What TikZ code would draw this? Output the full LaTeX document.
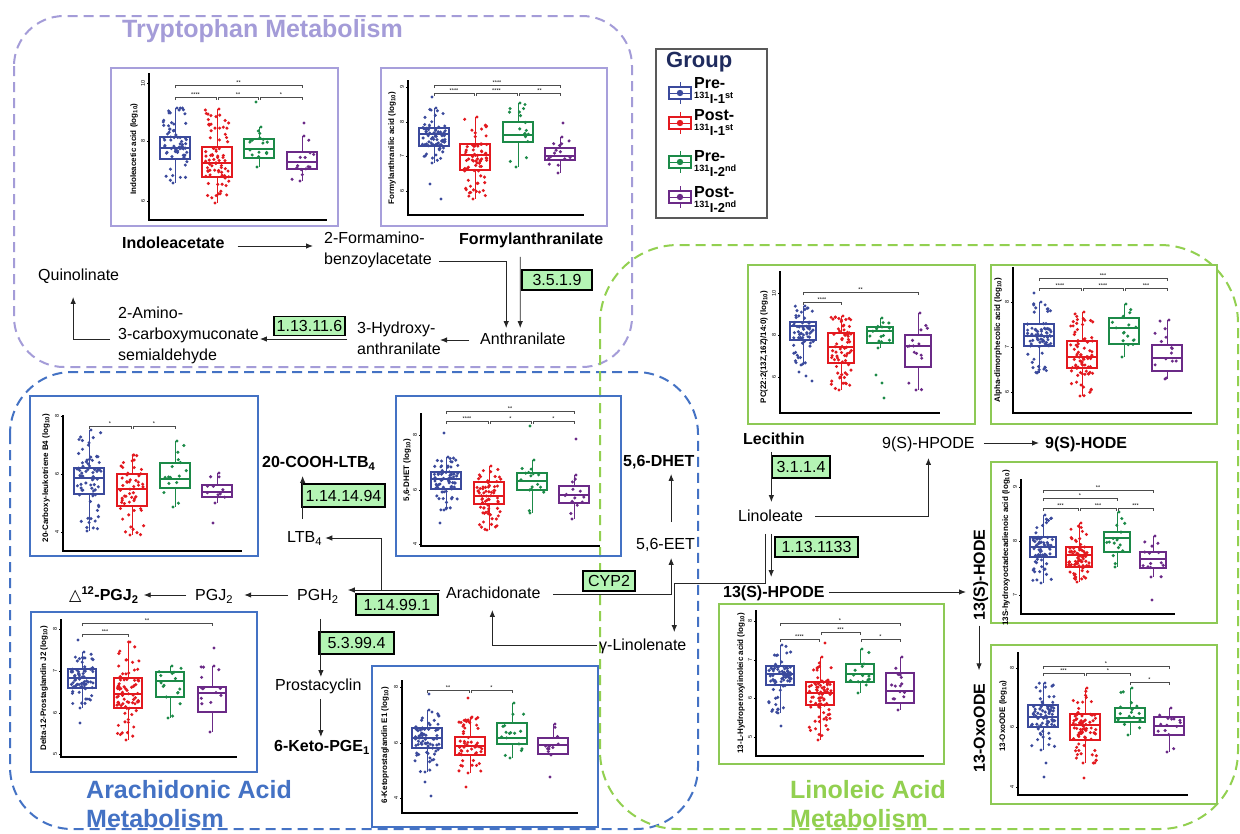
\documentclass[tikz,border=0pt]{standalone}
\usepackage{fontspec}
\setmainfont{Liberation Sans}
\newfontfamily\djv{DejaVu Sans}
\usetikzlibrary{arrows.meta,calc}
\definecolor{cB}{HTML}{3B4A9C}
\definecolor{cR}{HTML}{E3191F}
\definecolor{cG}{HTML}{1C8A48}
\definecolor{cP}{HTML}{6B2A87}
\definecolor{lav}{HTML}{A49CD8}
\definecolor{lavF}{HTML}{A79FDB}
\definecolor{bluR}{HTML}{4472C4}
\definecolor{grnR}{HTML}{92D050}
\definecolor{grnF}{HTML}{8DC955}
\definecolor{enzfill}{HTML}{B4F4B4}
\definecolor{navy}{HTML}{1F2B5E}
\newcount\nn
\newcommand\nid{\global\advance\nn by 1\relax}
\tikzset{
  lab/.style={inner sep=0pt, anchor=west, text height=11.5pt, text depth=0pt, font=\fontsize{16}{19}\selectfont},
  blab/.style={lab, font=\fontsize{16}{19}\selectfont\bfseries},
  mlab/.style={inner sep=0pt, anchor=north west, align=left, font=\fontsize{16}{21}\selectfont},
  enz/.style={draw=black, line width=1.5pt, fill=enzfill, inner sep=0pt, font=\fontsize{16}{16}\selectfont, text height=11.5pt, text depth=0pt},
  ln/.style={line width=0.9pt, draw=black!85},
  arr/.style={ln, -{Latex[length=7pt,width=5.5pt]}},
  region/.style={line width=2pt, dash pattern=on 10pt off 6pt, rounded corners=#1},
  pfr/.style={line width=2.4pt},
  axl/.style={line width=1.2pt, black},
  ylabs/.style={inner sep=0pt, font=\fontsize{8}{8}\selectfont\bfseries, rotate=90},
  ticks/.style={inner sep=0pt, font=\fontsize{5.5}{6}\selectfont, rotate=90},
  stars/.style={inner sep=0pt, font=\fontsize{5.5}{5}\selectfont},
  brk/.style={line width=0.5pt, black!70},
  legt/.style={inner sep=0pt, anchor=north west, align=left, font=\fontsize{16}{15}\selectfont\bfseries},
  ttl/.style={inner sep=0pt, font=\fontsize{25}{29}\selectfont\bfseries},
}
\newcommand\pFrame[5]{\draw[pfr,#5] (#1,#2) rectangle (#3,#4);}
\newcommand\pAxes[4]{\draw[axl] (#1,#2) -- (#1,#3) -- (#4,#3);}
\newcommand\pTick{\pTickx}
\newcommand\pTickx[3]{\draw[line width=0.5pt] (#1,#2) -- (#1-2.5,#2);\nid\node[ticks] (tk\the\nn) at (#1-6,#2) {#3};}
\newcommand\pYlab[3]{\nid\node[ylabs] (yl\the\nn) at (#1,#2) {#3};}
\newcommand\pBrk[4]{\draw[brk] (#1,#3+3) -- (#1,#3) -- (#2,#3) -- (#2,#3+3);\nid\node[stars] (st\the\nn) at ({(#1+#2)/2},#3-2.5) {#4};}
\newcommand\pOut[3]{\fill[#3] (#1,#2) circle[radius=1.7];}
\newcommand\pGrp[9]{%
  \draw[#3, line width=0.9pt] (#1,#4) -- (#1,#5) (#1,#7) -- (#1,#8);
  \draw[#3, line width=1.2pt] (#1-#2,#5) rectangle (#1+#2,#7);
  \draw[#3, line width=1.9pt] (#1-#2,#6) -- (#1+#2,#6);
  \foreach \k in {1,...,#9}{%
    \pgfmathsetmacro\uu{rnd}%
    \pgfmathsetmacro\yy{\uu<0.4 ? #5+rnd*(#7-#5) : #4+rnd*(#8-#4)}%
    \pgfmathsetmacro\xx{#1+0.8*#2*rand}%
    \fill[#3] (\xx,\yy) circle[radius=1.7];
  }%
  \fill[#3] (#1+2,#4) circle[radius=1.7] (#1-2,#8) circle[radius=1.7];
}
\newcommand\legIcon[3]{%
  \draw[#3, line width=1pt] (#1,#2-11) -- (#1,#2+11);
  \draw[#3, line width=1.1pt, fill=white] (#1-11,#2-6) rectangle (#1+11,#2+6);
  \draw[#3, line width=1pt] (#1-11,#2) -- (#1+11,#2);
  \fill[#3] (#1,#2) circle[radius=3.2];}
\newcommand\lsub[2]{{\fontsize{13}{15}\selectfont\textsuperscript{131}I-#1\textsuperscript{#2}}}
\begin{document}
\begin{tikzpicture}[x=1pt,y=-1pt]
\useasboundingbox (0,0) rectangle (1240,833);
\fill[white] (0,0) rectangle (1240,833);
\pgfmathsetseed{4242}
% regions
\draw[region=50pt, lav] (14,16) rectangle (632,367);
\draw[region=62pt, bluR] (10,372) rectangle (698,829);
\draw[region=78pt, grnR] (600,245) rectangle (1238,829);

% ---------- Plot 1 Indoleacetic
\pFrame{111}{68}{338}{226}{lavF}
\pAxes{149}{73}{220}{327}
\pTick{149}{83}{10}\pTick{149}{141}{8}\pTick{149}{201}{6}
\pYlab{134}{149}{Indoleacetic acid (log\textsubscript{10})}
\pGrp{175}{15}{cB}{108}{137}{148}{159}{183}{72}
\pGrp{217}{15}{cR}{109}{147}{163}{177}{203}{75}
\pGrp{259}{15}{cG}{127}{139}{149}{158}{167}{15}\pOut{256}{102}{cG}
\pGrp{302}{15}{cP}{136}{152}{162}{169}{181}{13}\pOut{304}{123}{cP}
\pBrk{175}{216}{97}{****}\pBrk{218}{258}{97}{**}\pBrk{260}{302}{97}{*}\pBrk{175}{302}{85}{**}

% ---------- Plot 2 Formylanthranilic
\pFrame{381}{68}{607}{226}{lavF}
\pAxes{408}{80}{215}{584}
\pTick{408}{87}{9}\pTick{408}{122}{8}\pTick{408}{156}{7}\pTick{408}{191}{6}
\pYlab{392}{148}{Formylanthranilic acid (log\textsubscript{10})}
\pGrp{434}{15}{cB}{108}{128}{134}{146}{163}{72}\pOut{432}{97}{cB}\pOut{430}{184}{cB}\pOut{441}{199}{cB}
\pGrp{475}{15}{cR}{117}{144}{155}{170}{199}{75}
\pGrp{518}{15}{cG}{103}{122}{135}{142}{167}{15}
\pGrp{560}{15}{cP}{137}{148}{156}{160}{173}{13}\pOut{563}{123}{cP}
\pBrk{434}{474}{93}{****}\pBrk{476}{517}{93}{****}\pBrk{519}{560}{93}{**}\pBrk{434}{560}{85}{****}

% ---------- Plot 3 PC
\pFrame{748}{265}{975}{424}{grnF}
\pAxes{780}{271}{413}{940}
\pTick{780}{293}{10}\pTick{780}{335}{8}\pTick{780}{377}{6}
\pYlab{764}{347}{PC(22:2(13Z,16Z)/14:0) (log\textsubscript{10})}
\pGrp{803}{13}{cB}{306}{322}{326}{340}{365}{62}\pOut{799}{372}{cB}\pOut{806}{376}{cB}\pOut{812}{381}{cB}
\pGrp{841}{13}{cR}{316}{333}{347}{363}{390}{68}
\pGrp{880}{13}{cG}{318}{327}{331}{343}{348}{13}\pOut{876}{375}{cG}\pOut{882}{383}{cG}\pOut{884}{398}{cG}
\pGrp{918}{13}{cP}{313}{335}{346}{367}{390}{14}
\pBrk{803}{841}{302}{****}\pBrk{803}{918}{292}{**}

% ---------- Plot 4 Alpha-dimorphecolic
\pFrame{991}{265}{1217}{424}{grnF}
\pAxes{1013}{267}{413}{1192}
\pTick{1013}{302}{8}\pTick{1013}{347}{7}\pTick{1013}{392}{6}
\pYlab{998}{340}{Alpha-dimorphecolic acid (log\textsubscript{10})}
\pGrp{1039}{15}{cB}{302}{324}{336}{346}{373}{72}\pOut{1034}{293}{cB}
\pGrp{1082}{15}{cR}{312}{341}{357}{368}{396}{75}
\pGrp{1124}{15}{cG}{304}{318}{328}{344}{357}{15}
\pGrp{1167}{15}{cP}{320}{345}{358}{371}{379}{13}
\pBrk{1039}{1167}{278}{***}\pBrk{1039}{1081}{288}{****}\pBrk{1083}{1123}{288}{****}\pBrk{1125}{1167}{288}{***}

% ---------- Plot 5 13S-hydroxy
\pFrame{991}{462}{1217}{623}{grnF}
\pAxes{1021}{479}{614}{1175}
\pTick{1021}{487}{9}\pTick{1021}{541}{8}\pTick{1021}{595}{7}
\pYlab{1006}{548}{13S-hydroxyoctadecadienoic acid (log\textsubscript{10})}
\pGrp{1043}{13}{cB}{515}{537}{547}{557}{583}{72}
\pGrp{1079}{13}{cR}{523}{547}{555}{567}{582}{75}
\pGrp{1117}{13}{cG}{512}{532}{538}{552}{567}{15}
\pGrp{1153}{13}{cP}{536}{552}{559}{568}{577}{13}\pOut{1152}{600}{cP}
\pBrk{1043}{1153}{490}{**}\pBrk{1043}{1117}{498}{*}\pBrk{1043}{1078}{508}{***}\pBrk{1080}{1116}{508}{***}\pBrk{1118}{1153}{508}{***}

% ---------- Plot 6 13-OxoODE
\pFrame{991}{645}{1217}{804}{grnF}
\pAxes{1018}{652}{795}{1188}
\pTick{1018}{668}{8}\pTick{1018}{727}{6}\pTick{1018}{787}{4}
\pYlab{1003}{716}{13-OxoODE (log\textsubscript{10})}
\pGrp{1043}{15}{cB}{683}{705}{717}{727}{750}{72}\pOut{1046}{763}{cB}\pOut{1044}{777}{cB}
\pGrp{1085}{15}{cR}{688}{714}{725}{740}{763}{75}\pOut{1084}{778}{cR}
\pGrp{1130}{15}{cG}{688}{708}{718}{722}{735}{15}
\pGrp{1169}{15}{cP}{708}{717}{726}{735}{752}{13}
\pBrk{1043}{1169}{666}{*}\pBrk{1043}{1084}{673}{***}\pBrk{1086}{1130}{673}{*}\pBrk{1130}{1169}{682}{*}

% ---------- Plot 7 13-L-Hydroperoxylinoleic
\pFrame{719}{604}{944}{764}{grnF}
\pAxes{756}{610}{756}{924}
\pTick{756}{621}{8}\pTick{756}{660}{7}\pTick{756}{698}{6}\pTick{756}{737}{5}
\pYlab{741}{683}{13-L-Hydroperoxylinoleic acid (log\textsubscript{10})}
\pGrp{780}{14}{cB}{645}{666}{674}{685}{713}{72}\pOut{781}{726}{cB}
\pGrp{820}{14}{cR}{657}{682}{693}{705}{740}{75}\pOut{825}{643}{cR}
\pGrp{860}{14}{cG}{649}{664}{674}{682}{693}{15}
\pGrp{900}{14}{cP}{657}{673}{691}{703}{710}{13}
\pBrk{780}{900}{623}{*}\pBrk{821}{860}{632}{***}\pBrk{780}{819}{639}{****}\pBrk{861}{900}{639}{*}

% ---------- Plot 8 20-Carboxy-leukotriene B4
\pFrame{30}{396}{258}{556}{bluR}
\pAxes{63}{415}{551}{242}
\pTick{63}{416}{8}\pTick{63}{474}{6}\pTick{63}{532}{4}
\pYlab{46}{478}{20-Carboxy-leukotriene B4 (log\textsubscript{10})}
\pGrp{89}{15}{cB}{430}{468}{478}{494}{531}{72}
\pGrp{132}{15}{cR}{455}{474}{489}{506}{535}{52}
\pGrp{175}{15}{cG}{441}{463}{479}{488}{507}{15}
\pGrp{217}{15}{cP}{473}{485}{492}{497}{503}{9}\pOut{213}{523}{cP}
\pBrk{89}{131}{426}{*}\pBrk{133}{175}{426}{*}

% ---------- Plot 9 5,6-DHET
\pFrame{396}{396}{621}{556}{bluR}
\pAxes{421}{413}{546}{600}
\pTick{421}{435}{8}\pTick{421}{490}{6}\pTick{421}{544}{4}
\pYlab{407}{470}{5,6-DHET (log\textsubscript{10})}
\pGrp{446}{15}{cB}{457}{472}{479}{489}{510}{72}\pOut{444}{433}{cB}\pOut{440}{523}{cB}
\pGrp{489}{15}{cR}{466}{482}{496}{504}{530}{68}
\pGrp{532}{15}{cG}{460}{473}{481}{490}{513}{15}\pOut{530}{426}{cG}
\pGrp{574}{15}{cP}{475}{486}{495}{503}{519}{13}\pOut{576}{439}{cP}
\pBrk{446}{574}{411}{**}\pBrk{446}{488}{421}{****}\pBrk{490}{531}{421}{*}\pBrk{533}{574}{421}{*}

% ---------- Plot 10 Delta-12-Prostaglandin J2
\pFrame{31}{612}{257}{772}{bluR}
\pAxes{61}{619}{757}{237}
\pTick{61}{629}{8}\pTick{61}{671}{7}\pTick{61}{713}{6}\pTick{61}{754}{5}
\pYlab{44}{688}{Delta-12-Prostaglandin J2 (log\textsubscript{10})}
\pGrp{82}{14}{cB}{652}{669}{678}{688}{708}{72}\pOut{78}{640}{cB}\pOut{80}{723}{cB}
\pGrp{128}{14}{cR}{642}{678}{694}{708}{740}{75}
\pGrp{170}{14}{cG}{666}{672}{681}{697}{718}{15}
\pGrp{212}{14}{cP}{666}{687}{693}{712}{732}{13}\pOut{214}{648}{cP}
\pBrk{82}{212}{623}{**}\pBrk{82}{128}{634}{***}

% ---------- Plot 11 6-Ketoprostaglandin E1
\pFrame{372}{666}{598}{827}{bluR}
\pAxes{402}{680}{813}{578}
\pTick{402}{687}{8}\pTick{402}{743}{6}\pTick{402}{798}{4}
\pYlab{385}{745}{6-Ketoprostaglandin E1 (log\textsubscript{10})}
\pGrp{427}{15}{cB}{710}{728}{738}{748}{772}{72}\pOut{429}{694}{cB}\pOut{425}{782}{cB}\pOut{431}{796}{cB}
\pGrp{470}{15}{cR}{717}{737}{746}{755}{773}{52}\pOut{468}{698}{cR}\pOut{466}{787}{cR}
\pGrp{512}{15}{cG}{703}{723}{738}{744}{758}{15}
\pGrp{553}{15}{cP}{724}{738}{745}{754}{755}{9}\pOut{550}{777}{cP}
\pBrk{427}{469}{690}{**}\pBrk{471}{512}{690}{*}

% ---------- Legend
\draw[line width=1.2pt, black!65] (656,49) rectangle (767,218);
\node[inner sep=0pt, anchor=west, font=\fontsize{22}{22}\selectfont\bfseries, text=navy] (grp) at (666,62) {Group};
\legIcon{680}{93}{cB}\legIcon{680}{123}{cR}\legIcon{680}{162}{cG}\legIcon{680}{197}{cP}
\node[legt] (lg1) at (694,77) {Pre-\\\lsub{1}{st}};
\node[legt] (lg2) at (694,109) {Post-\\\lsub{1}{st}};
\node[legt] (lg3) at (694,150) {Pre-\\\lsub{2}{nd}};
\node[legt] (lg4) at (694,186) {Post-\\\lsub{2}{nd}};

% ---------- Titles
\node[ttl, anchor=west, text=lav] (tt) at (122,31) {Tryptophan Metabolism};
\node[ttl, anchor=north west, align=left, text=bluR] (ta) at (86,780) {Arachidonic Acid\\Metabolism};
\node[ttl, anchor=north west, align=left, text=grnR] (tl) at (790,780) {Linoleic Acid\\Metabolism};

% ---------- Tryptophan pathway
\node[blab] (ind) at (122,243) {Indoleacetate};
\node[mlab] (fab) at (324,232) {2-Formamino-\\benzoylacetate};
\node[blab] (fyl) at (459,239) {Formylanthranilate};
\node[lab] (ant) at (480,339) {Anthranilate};
\node[mlab] (hya) at (357,322) {3-Hydroxy-\\anthranilate};
\node[mlab] (acm) at (118,307) {2-Amino-\\3-carboxymuconate\\semialdehyde};
\node[lab] (qui) at (38,275) {Quinolinate};
\node[enz, minimum width=70pt, minimum height=20pt] (e1) at (557,280) {3.5.1.9};
\node[enz, minimum width=71pt, minimum height=19pt] (e2) at (309.5,326) {1.13.11.6};
\draw[arr] ($(ind.east)+(13,3)$) -- ($(fab.west |- ind.east)+(-11,3)$);
\draw[arr] ($(fab.north west)+(115,29)$) -| ($(ant.north)+(-16.7,-5)$);
\draw[arr] ($(fyl.south)+(-11,12)$) -- ($(ant.north)+(-2.7,-5)$);
\draw[arr] ($(ant.west)+(-11,1)$) -- ($(hya.east |- ant.west)+(-1,1)$);
\draw[arr] ($(hya.west |- ant.west)+(-10,0)$) -- ($(acm.east |- ant.west)+(1,0)$);
\draw[arr] ($(acm.north west)+(-8,32)$) -| ($(qui.south)+(-5.5,16)$);

% ---------- Arachidonic pathway
\node[blab] (cooh) at (262,462) {20-COOH-LTB\textsubscript{4}};
\node[lab] (ltb) at (287,537) {LTB\textsubscript{4}};
\node[lab] (ara) at (446,593) {Arachidonate};
\node[lab] (pgh) at (297,595) {PGH\textsubscript{2}};
\node[lab] (pgj) at (195,595) {PGJ\textsubscript{2}};
\node[blab] (dpgj) at (69,595) {{\djv\mdseries △}\textsuperscript{12}-PGJ\textsubscript{2}};
\node[lab] (pro) at (275,685) {Prostacyclin};
\node[blab] (keto) at (274,746) {6-Keto-PGE\textsubscript{1}};
\node[blab] (dhet) at (623,461) {5,6-DHET};
\node[lab] (eet) at (636,544) {5,6-EET};
\node[lab] (gla) at (599,645) {γ-Linolenate};
\node[enz, minimum width=83pt, minimum height=23pt] (e3) at (343.5,495.5) {1.14.14.94};
\node[enz, minimum width=82pt, minimum height=21pt] (e4) at (397,604.5) {1.14.99.1};
\node[enz, minimum width=75pt, minimum height=22pt] (e5) at (356.5,643) {5.3.99.4};
\node[enz, minimum width=52pt, minimum height=20pt] (cyp) at (609,581) {CYP2};
\draw[arr] ($(ltb.north)+(-2,-12)$) -- ($(ltb.north |- cooh.south)+(-2,8)$);
\draw[arr] ($(ara.west)+(-6,-3)$) -- ($(pgh.east |- ara.west)+(9,-3)$);
\draw[arr] ($(ara.west)+(-65,-3)$) |- ($(ltb.east)+(3,1)$);
\draw[arr] ($(pgh.west)+(-9,0)$) -- ($(pgj.east)+(11,0)$);
\draw[arr] ($(pgj.west)+(-9,0)$) -- ($(dpgj.east)+(5,0)$);
\draw[arr] ($(pgh.south)+(3,18)$) -- ($(pgh.south |- pro.north)+(3,-2)$);
\draw[arr] ($(pgh.south |- pro.south)+(3,8)$) -- ($(pgh.south |- keto.north)+(3,-3)$);
\draw[arr] ($(ara.east)+(12.7,1)$) -| ($(eet.south)+(5.6,8)$);
\draw[arr] ($(eet.north)+(5.6,-16)$) -- ($(eet.north |- dhet.south)+(5.6,7)$);
\draw[arr] ($(gla.west)+(-2,0)$) -| ($(ara.south)+(-1,11)$);

% ---------- Linoleic pathway
\node[blab] (lec) at (743,439) {Lecithin};
\node[lab] (lin) at (738,516) {Linoleate};
\node[lab] (hp9) at (882,443) {9(S)-HPODE};
\node[blab] (hd9) at (1045,443) {9(S)-HODE};
\node[blab] (hp13) at (723,592) {13(S)-HPODE};
\node[blab, rotate=90, anchor=center] (hd13) at (979,575) {13(S)-HODE};
\node[blab, rotate=90, anchor=center] (oxo) at (979,728) {13-OxoODE};
\node[enz, minimum width=58pt, minimum height=22pt] (e6) at (801,467) {3.1.1.4};
\node[enz, minimum width=83pt, minimum height=20pt] (e7) at (816.5,547) {1.13.1133};
\draw[arr] ($(lec.south)+(-2.5,7)$) -- ($(lec.south |- lin.north)+(-2.5,-8)$);
\draw[arr] ($(lin.east)+(12,0)$) -| ($(hp9.south)+(0,9)$);
\draw[arr] ($(hp9.east)+(9,0)$) -- ($(hd9.west)+(-6,0)$);
\draw[arr] ($(lin.south)+(-5.5,12)$) |- ($(gla.north)+(31.5,-56)$) -- ($(gla.north)+(31.5,-7)$);
\draw[arr] ($(lin.south)+(0.5,12)$) -- ($(lin.south |- hp13.north)+(0.5,-9)$);
\draw[arr] ($(hp13.east)+(4,0)$) -- ($(hd13.center)+(-13,17)$);
\draw[arr] ($(hd13.west)+(0,5)$) -- ($(oxo.east)+(0,-13)$);
\end{tikzpicture}
\end{document}
